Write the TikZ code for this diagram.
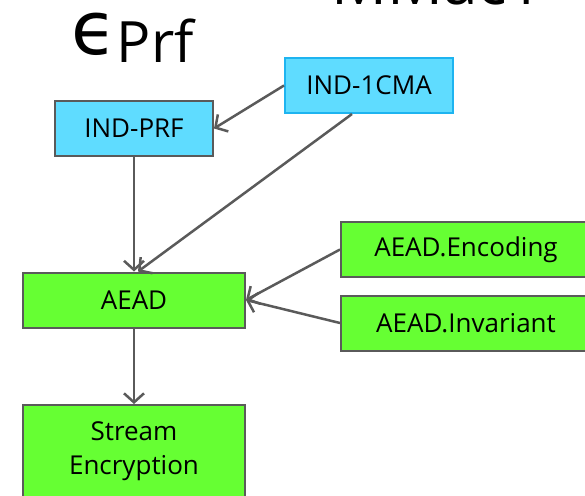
\documentclass[tikz,border=0pt]{standalone}
\usepackage{fontspec}
\setmainfont{Open Sans}
\newfontfamily\epsfont{DejaVu Sans}
\usetikzlibrary{arrows.meta}
\definecolor{boxcyan}{RGB}{95,220,255}
\definecolor{cyanedge}{RGB}{30,180,240}
\definecolor{boxgreen}{RGB}{102,255,51}
\definecolor{edgegray}{RGB}{90,90,90}

\begin{document}
\begin{tikzpicture}[x=1pt,y=-1pt,
  box/.style={draw=edgegray,line width=2pt,minimum height=55pt,inner sep=0pt,
    font=\fontsize{26}{34}\selectfont},
  link/.style={draw=edgegray,line width=2.5pt,-{Straight Barb[length=9pt,width=20pt]}}]
  \useasboundingbox (0,0) rectangle (585,495);
  \clip (0,0) rectangle (585,495);
  % headings, partly cut off
  \node[anchor=base west,inner sep=0pt,font=\fontsize{57}{57}\selectfont] (eprf) at (71,63)
    {\raisebox{8pt}{\epsfont\fontsize{74}{74}\selectfont ϵ}Prf};
  \node[anchor=base west,inner sep=0pt,font=\fontsize{62}{62}\selectfont] (mmac) at (331,5) {MMac1};
  % security notions
  \node[box,fill=boxcyan,draw=cyanedge,minimum width=168pt] (cma) at (369,85.5) {IND-1CMA};
  \node[box,fill=boxcyan,minimum width=158pt] (prf) at (134,128.5) {IND-PRF};
  % constructions
  \node[box,fill=boxgreen,minimum width=222pt] (aead) at (134,300) {AEAD};
  \node[box,fill=boxgreen,minimum width=250pt] (enc) at (466,249.5) {AEAD.Encoding};
  \node[box,fill=boxgreen,minimum width=250pt] (inv) at (466,323) {AEAD.Invariant};
  \node[box,fill=boxgreen,minimum width=222pt,minimum height=92pt,align=center] (stream) at (134,451)
    {Stream\\Encryption};
  % arrows
  \draw[link] (cma.west) -- (prf.east);
  \draw[link] ([xshift=-17pt]cma.south) -- ([xshift=4pt]aead.north);
  \draw[link] (prf) -- (aead);
  \draw[link] (enc.west) -- (aead.east);
  \draw[link] (inv.west) -- (aead.east);
  \draw[link] (aead) -- (stream);
\end{tikzpicture}
\end{document}
